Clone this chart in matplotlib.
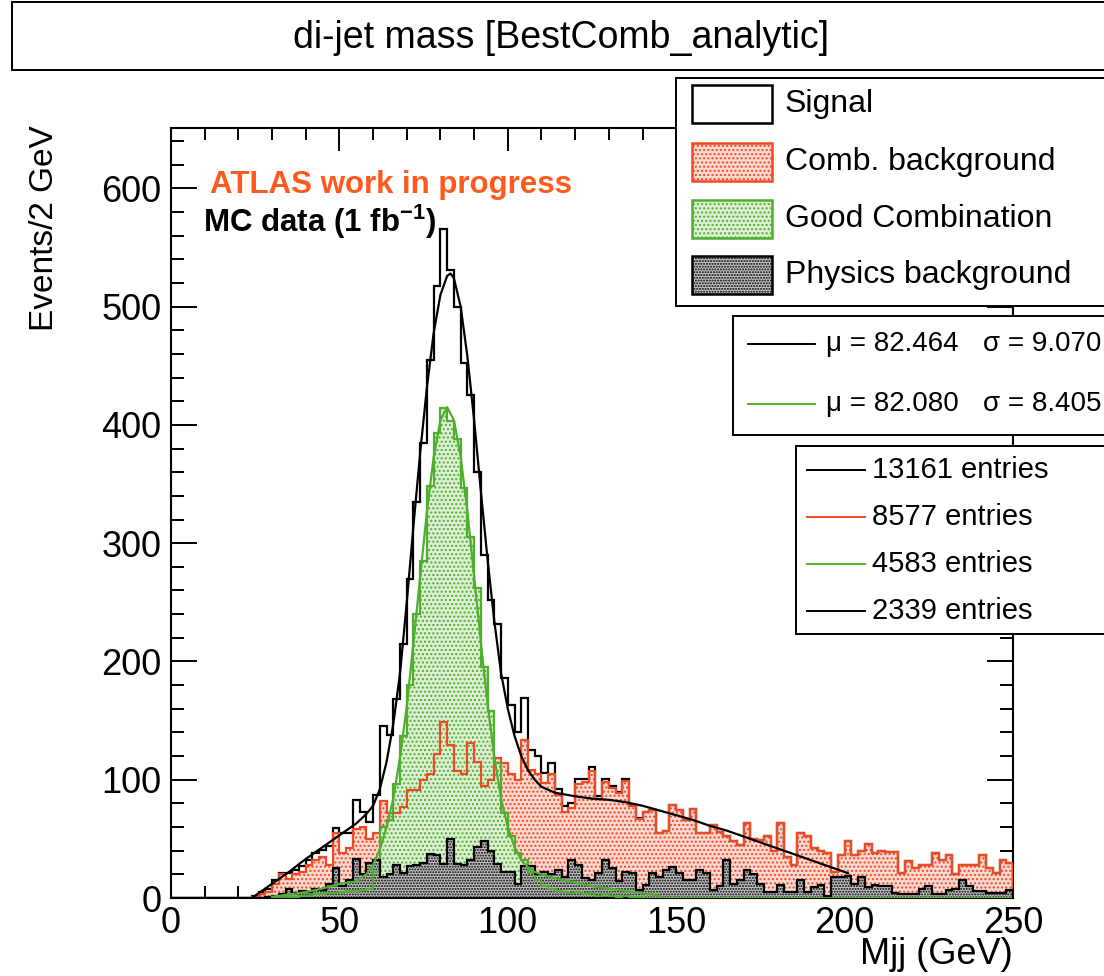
import matplotlib
matplotlib.use("Agg")
import matplotlib.pyplot as plt
import numpy as np
from matplotlib.patches import Rectangle
from matplotlib.lines import Line2D

plt.rcParams["font.family"] = ["Liberation Sans", "DejaVu Sans"]
plt.rcParams["mathtext.fontset"] = "custom"
plt.rcParams["mathtext.rm"] = "Liberation Sans"
plt.rcParams["mathtext.bf"] = "Liberation Sans:bold"
plt.rcParams["hatch.linewidth"] = 1.0

# 2 GeV bins from 0 to 250 GeV
bin_edges = np.arange(0, 252, 2)

signal = [0] * 12 + [
    2, 5, 8, 15, 21, 21, 24, 27, 32, 38, 41, 44, 59, 55, 55, 83, 73, 64, 87,
    145, 138, 168, 215, 270, 335, 385, 455, 517, 566, 531, 500, 452, 425, 360,
    290, 252, 232, 186, 163, 140, 169, 125, 120, 106, 114, 92,
    78, 80, 101, 101, 111, 86, 101, 95, 90, 101, 79, 68, 73, 74, 55, 57, 79,
    74, 66, 75, 55, 55, 62, 56, 52,
    48, 45, 63, 50, 49, 52, 40, 63, 35, 28, 55, 52, 42, 40, 38, 22, 36, 48,
    36, 40, 46, 38, 40, 39, 39, 21, 31, 25, 28, 28, 38, 32, 36, 20, 28, 28,
    28, 36, 25, 21, 32, 30,
]

comb_bkg = [0] * 12 + [
    1, 3, 5, 12, 20, 16, 20, 22, 28, 32, 35, 28, 55, 38, 42, 58, 60, 50, 55,
    82, 72, 72, 77, 91, 91, 100, 105, 122, 149, 129, 107, 105, 131, 115,
    95, 100, 118, 114, 105, 100, 134, 108, 105, 97, 105, 87,
    73, 76, 96, 98, 107, 84, 98, 93, 89, 99, 78, 67, 73, 74, 55, 57, 79,
    74, 66, 75, 55, 55, 62, 56, 52,
    48, 45, 63, 50, 49, 52, 40, 63, 35, 28, 55, 52, 42, 40, 38, 22, 36, 48,
    36, 40, 46, 38, 40, 39, 39, 21, 31, 25, 28, 28, 38, 32, 36, 20, 28, 28,
    28, 36, 25, 21, 32, 30,
]

good_comb = [0] * 15 + [
    1, 0, 1, 1, 2, 2, 3, 3, 4, 4, 5, 6, 6, 7, 8,
    22, 60, 66, 96, 137, 180, 240, 285, 348, 393, 414, 403, 388, 347, 305,
    262, 195, 158, 114, 72, 52, 38, 32, 21, 15, 10, 8, 6,
    5, 4, 5, 3, 4, 2, 3, 2, 1, 2, 1, 1,
] + [0] * 55

phys_bkg = [0] * 14 + [
    1, 2, 3, 8, 4, 6, 5, 8, 7, 12, 25, 10, 15, 33, 20, 30, 32, 18, 20, 28,
    21, 27, 28, 30, 37, 36, 29, 50, 29, 28, 32, 43, 48, 40, 29, 22, 22, 12,
    27, 27, 20, 22, 20, 24,
    18, 32, 28, 17, 15, 21, 32, 25, 14, 22, 21, 7, 11, 21, 18, 24, 26, 21,
    15, 15, 24, 21, 7, 10, 32, 12,
    15, 24, 20, 12, 5, 5, 11, 5, 5, 15, 5, 9, 11, 2, 18, 18, 19, 12, 18, 9,
    11, 10, 10, 4, 3, 3, 3, 8, 10, 3, 3, 7, 8, 15, 10, 6, 6, 4, 4, 4, 7,
]

# fitted curves
fit_sig_x = [24, 30, 35, 40, 45, 50, 55, 58, 60, 62, 64, 66, 68, 70, 72, 74,
             76, 78, 80, 82, 83, 84, 86, 88, 90, 92, 94, 96, 98, 100, 102,
             104, 106, 108, 110, 114, 120, 125, 130, 135, 140, 145, 150, 155,
             160, 165, 170, 175, 180, 185, 190, 195, 201]
fit_sig_y = [0, 12, 22, 33, 43, 53, 63, 71, 78, 92, 115, 147, 190, 250, 315,
             377, 432, 478, 510, 526, 528, 524, 500, 458, 404, 344, 286, 234,
             190, 160, 137, 120, 108, 100, 94, 89, 86, 84, 83, 81, 78, 74, 70,
             66, 61, 57, 52, 47, 42, 37, 32, 27, 21]

fit_good_x = [30, 35, 40, 45, 50, 55, 58, 60, 62, 64, 66, 68, 70, 72, 74, 76,
              78, 80, 82, 84, 86, 88, 90, 92, 94, 96, 98, 100, 102, 104, 106,
              108, 110, 115, 120, 125, 130, 135, 140, 145]
fit_good_y = [1, 3, 5, 8, 12, 14, 20, 28, 41, 60, 84, 119, 162, 216, 272, 327,
              373, 404, 415, 404, 373, 327, 272, 216, 164, 119, 84, 60, 43, 32,
              26, 22, 20, 16, 13, 10, 8, 6, 4, 2]

legend_labels = ["Signal", "Comb. background", "Good Combination",
                 "Physics background"]
fit_labels = [("\u03bc = 82.464", "\u03c3 = 9.070"),
              ("\u03bc = 82.080", "\u03c3 = 8.405")]
entries_labels = ["13161 entries", "8577 entries", "4583 entries",
                  "2339 entries"]

RED = "#F04A22"
GREEN = "#4FAE2E"
ORANGE = "#FF5A1E"

W, H = 1104, 976


def fx(x):
    return x / W


def fy(y):
    return 1 - y / H


fig = plt.figure(figsize=(W / 100, H / 100), dpi=100)
ax = fig.add_axes([fx(171), fy(898), fx(1013) - fx(171), fy(128) - fy(898)])

# filled histograms (patterns) then outlines
ax.stairs(comb_bkg, bin_edges, fill=True, facecolor="#FBD9D2",
          edgecolor=RED, hatch="....", linewidth=0, zorder=2)
ax.stairs(good_comb, bin_edges, fill=True, facecolor="#DDF0D4",
          edgecolor=GREEN, hatch="....", linewidth=0, zorder=2.1)
ax.stairs(phys_bkg, bin_edges, fill=True, facecolor="#C4C4C4",
          edgecolor="black", hatch="......", linewidth=0, zorder=2.2)

ax.stairs(signal, bin_edges, color="black", linewidth=1.6, zorder=3)
ax.stairs(comb_bkg, bin_edges, color=RED, linewidth=1.6, zorder=3.1)
ax.stairs(good_comb, bin_edges, color=GREEN, linewidth=1.6, zorder=3.2)
ax.stairs(phys_bkg, bin_edges, color="black", linewidth=1.6, zorder=3.3)

ax.plot(fit_sig_x, fit_sig_y, color="black", linewidth=1.6, zorder=4)
ax.plot(fit_good_x, fit_good_y, color=GREEN, linewidth=1.6, zorder=4)

ax.set_xlim(0, 250)
ax.set_ylim(0, 651)
ax.set_xticks(np.arange(0, 251, 50))
ax.set_xticks(np.arange(0, 251, 10), minor=True)
ax.set_yticks(np.arange(0, 601, 100))
ax.set_yticks(np.arange(0, 651, 20), minor=True)
ax.tick_params(axis="both", which="both", direction="in", top=True,
               right=True, width=1.4, labelsize=26, colors="black")
ax.tick_params(axis="x", which="major", length=16.5, pad=6)
ax.tick_params(axis="x", which="minor", length=8.5)
ax.tick_params(axis="y", which="major", length=18.5, pad=7)
ax.tick_params(axis="y", which="minor", length=9.3)
for s in ax.spines.values():
    s.set_linewidth(1.5)

fig.text(fx(45), fy(125), "Events/2 GeV", rotation=90, ha="center",
         va="top", fontsize=24)
fig.text(fx(1013), fy(954), "Mjj (GeV)", ha="right", va="center",
         fontsize=26)

ax.text(fx(210), fy(185), "ATLAS work in progress", color=ORANGE,
        fontsize=22.5, fontweight="bold", transform=fig.transFigure,
        va="center", ha="left")
ax.text(fx(203), fy(222), r"MC data (1 fb$^{\mathbf{-1}}$)", color="black",
        fontsize=22.5, fontweight="bold", transform=fig.transFigure,
        va="center", ha="left")

# title box
fig.add_artist(Rectangle((fx(12), fy(70)), fx(1120) - fx(12), fy(2) - fy(70),
                         transform=fig.transFigure, facecolor="white",
                         edgecolor="black", linewidth=1.4))
fig.text(fx(561), fy(38), "di-jet mass [BestComb_analytic]", ha="center",
         va="center", fontsize=27)


def legend_box(x0, y0, y1):
    fig.add_artist(Rectangle((fx(x0), fy(y1)), fx(1120) - fx(x0),
                             fy(y0) - fy(y1), transform=fig.transFigure,
                             facecolor="white", edgecolor="black",
                             linewidth=1.4, zorder=5))


# legend 1: histogram swatches
legend_box(676, 78, 306)
swatch_style = [
    dict(facecolor="white", edgecolor="black", hatch=None),
    dict(facecolor="#FBD9D2", edgecolor=RED, hatch="...."),
    dict(facecolor="#DDF0D4", edgecolor=GREEN, hatch="...."),
    dict(facecolor="#C4C4C4", edgecolor="black", hatch="......"),
]
for lab, yc, st in zip(legend_labels, [104, 162, 219, 275], swatch_style):
    fig.add_artist(Rectangle((fx(692), fy(yc + 19)), fx(772) - fx(692),
                             fy(yc - 19) - fy(yc + 19),
                             transform=fig.transFigure, linewidth=1.8,
                             zorder=6, **st))
    fig.text(fx(785), fy(yc), lab, ha="left", va="center", fontsize=23,
             zorder=6)

# legend 2: fit results
legend_box(733, 316, 435)
for (mu, sig), yc, col in zip(fit_labels, [344, 404], ["black", GREEN]):
    fig.add_artist(Line2D([fx(748), fx(815)], [fy(yc), fy(yc)], color=col,
                          linewidth=1.4, transform=fig.transFigure, zorder=6))
    fig.text(fx(826), fy(yc), mu, ha="left", va="center", fontsize=20,
             zorder=6)
    fig.text(fx(983), fy(yc), sig, ha="left", va="center", fontsize=20,
             zorder=6)

# legend 3: entries
legend_box(796, 446, 634)
for lab, yc, col in zip(entries_labels, [470, 517, 564, 611],
                        ["black", RED, GREEN, "black"]):
    fig.add_artist(Line2D([fx(807), fx(865)], [fy(yc), fy(yc)], color=col,
                          linewidth=1.4, transform=fig.transFigure, zorder=6))
    fig.text(fx(872), fy(yc), lab, ha="left", va="center", fontsize=21,
             zorder=6)

fig.savefig("out.png", dpi=100)
